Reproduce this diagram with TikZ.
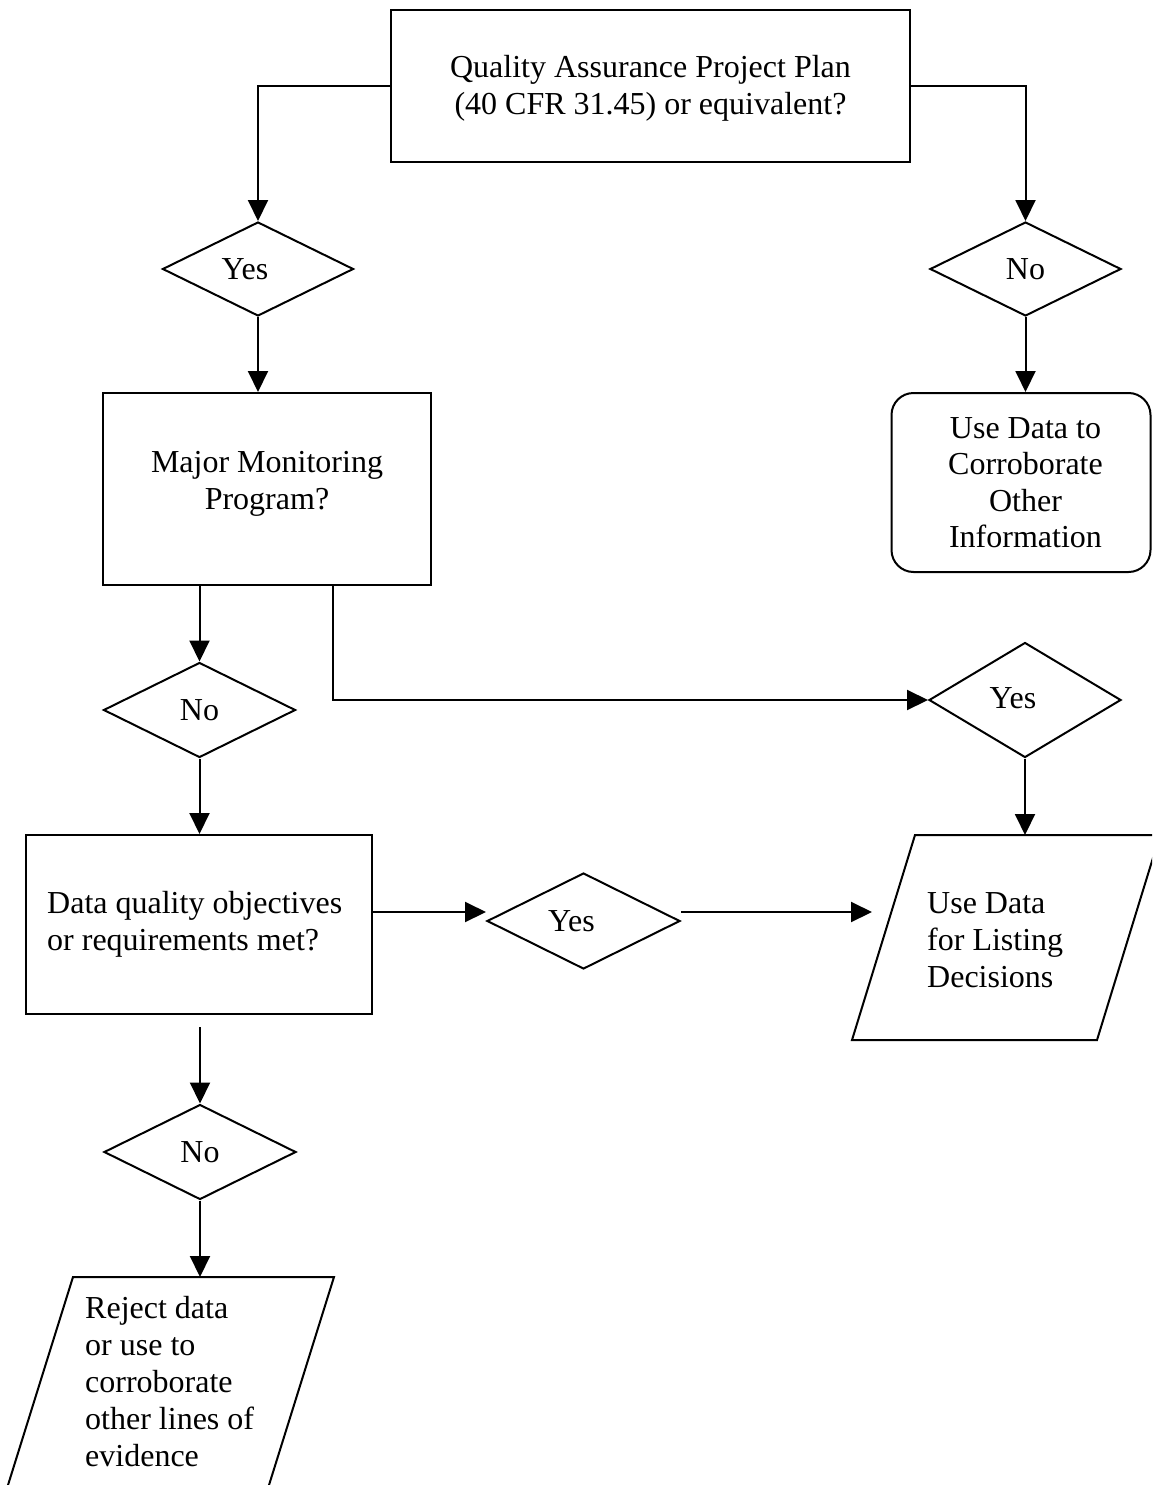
\documentclass[tikz,border=0pt]{standalone}
\usepackage{fontspec}
\setmainfont{Liberation Serif}
\usetikzlibrary{shapes.geometric,arrows.meta}
\tikzset{
  base/.style={draw, line width=2pt, inner sep=0pt, font=\fontsize{32pt}{37pt}\selectfont},
  box/.style={base, rectangle},
  dia/.style={base, diamond},
  rbox/.style={base, rectangle, rounded corners=22pt, align=center, font=\fontsize{32pt}{36.5pt}\selectfont},
  txt/.style={inner sep=0pt, font=\fontsize{32pt}{37pt}\selectfont},
  ln/.style={line width=2pt},
  arr/.style={line width=2pt, -{Triangle[length=21pt,width=20pt]}},
}
\begin{document}
\begin{tikzpicture}[x=1pt,y=-1pt]
\useasboundingbox (0,0) rectangle (1152,1485);
\clip (0,0) rectangle (1152,1485);

% top box
\node[box, minimum width=519pt, minimum height=152pt] (qapp) at (650.5,86) {};
\node[txt, align=center] (qappt) at (650.5,88) {Quality Assurance Project Plan\\(40 CFR 31.45) or equivalent?};

% first-row diamonds
\node[dia, minimum width=191pt, minimum height=94pt] (yes1) at (258,269) {\hspace*{-26pt}Yes};
\node[dia, minimum width=191pt, minimum height=94pt] (no1) at (1025.5,269) {No};

% rounded box
\node[rbox, minimum width=259pt, minimum height=179pt] (corr) at (1021,482.5) {\hspace*{9pt}Use Data to\\\hspace*{9pt}Corroborate\\\hspace*{9pt}Other\\\hspace*{9pt}Information};

% major monitoring box
\node[box, minimum width=328pt, minimum height=192pt] (major) at (267,489) {};
\node[txt, align=center] (majort) at (267,484) {Major Monitoring\\Program?};

% second-row diamonds
\node[dia, minimum width=192pt, minimum height=95pt] (no2) at (199.5,710) {No};
\node[dia, minimum width=192pt, minimum height=115pt] (yes2) at (1025,700) {\hspace*{-24pt}\raisebox{3pt}{Yes}};

% data quality box
\node[box, minimum width=346pt, minimum height=179pt] (dq) at (199,924.5) {};
\node[txt, align=left, anchor=west] (dqt) at (47,924.5) {Data quality objectives\\or requirements met?};

\node[dia, minimum width=193pt, minimum height=96pt] (yes3) at (583.5,921) {\hspace*{-24pt}Yes};

% parallelogram: use data for listing
\coordinate (p1a) at (915,835);
\coordinate (p1b) at (1160,835);
\coordinate (p1c) at (1097,1040);
\coordinate (p1d) at (852,1040);
\draw[ln] (p1a) -- (p1b) -- (p1c) -- (p1d) -- cycle;
\node[txt, align=left, anchor=west] (uset) at (927,940) {Use Data\\for Listing\\Decisions};

% bottom diamond
\node[dia, minimum width=192pt, minimum height=95pt] (no3) at (200,1152) {No};

% parallelogram: reject
\coordinate (p2a) at (73,1277);
\coordinate (p2b) at (334,1277);
\coordinate (p2c) at (261.2,1510);
\coordinate (p2d) at (0.2,1510);
\draw[ln] (p2a) -- (p2b) -- (p2c) -- (p2d) -- cycle;
\node[txt, align=left, anchor=west] (rejt) at (85,1382) {Reject data\\or use to\\corroborate\\other lines of\\evidence};

% connectors
\draw[arr] (qapp.west) -| (yes1.north);
\draw[arr] (yes1.south) -- (yes1.south |- major.north);
\draw[arr] (qapp.east) -| (no1.north);
\draw[arr] (no1.south) -- (no1.south |- corr.north);
\draw[arr] (major.south -| no2.north) -- (no2.north);
\coordinate (mjr) at ([xshift=66pt]major.south);
\draw[arr] (mjr) |- (yes2.west);
\draw[arr] (yes2.south) -- (yes2.south |- p1a);
\draw[arr] (no2.south) -- (no2.south |- dq.north);
\draw[arr] ([yshift=12.5pt]dq.east) -- ([yshift=12.5pt]dq.east -| yes3.west);
\coordinate (yes3out) at (872,912);
\draw[arr] (yes3.east |- yes3out) -- (yes3out);
\coordinate (dqout) at (200,1027);
\draw[arr] (dqout) -- (no3.north);
\draw[arr] (no3.south) -- (no3.south |- p2a);
\end{tikzpicture}
\end{document}
